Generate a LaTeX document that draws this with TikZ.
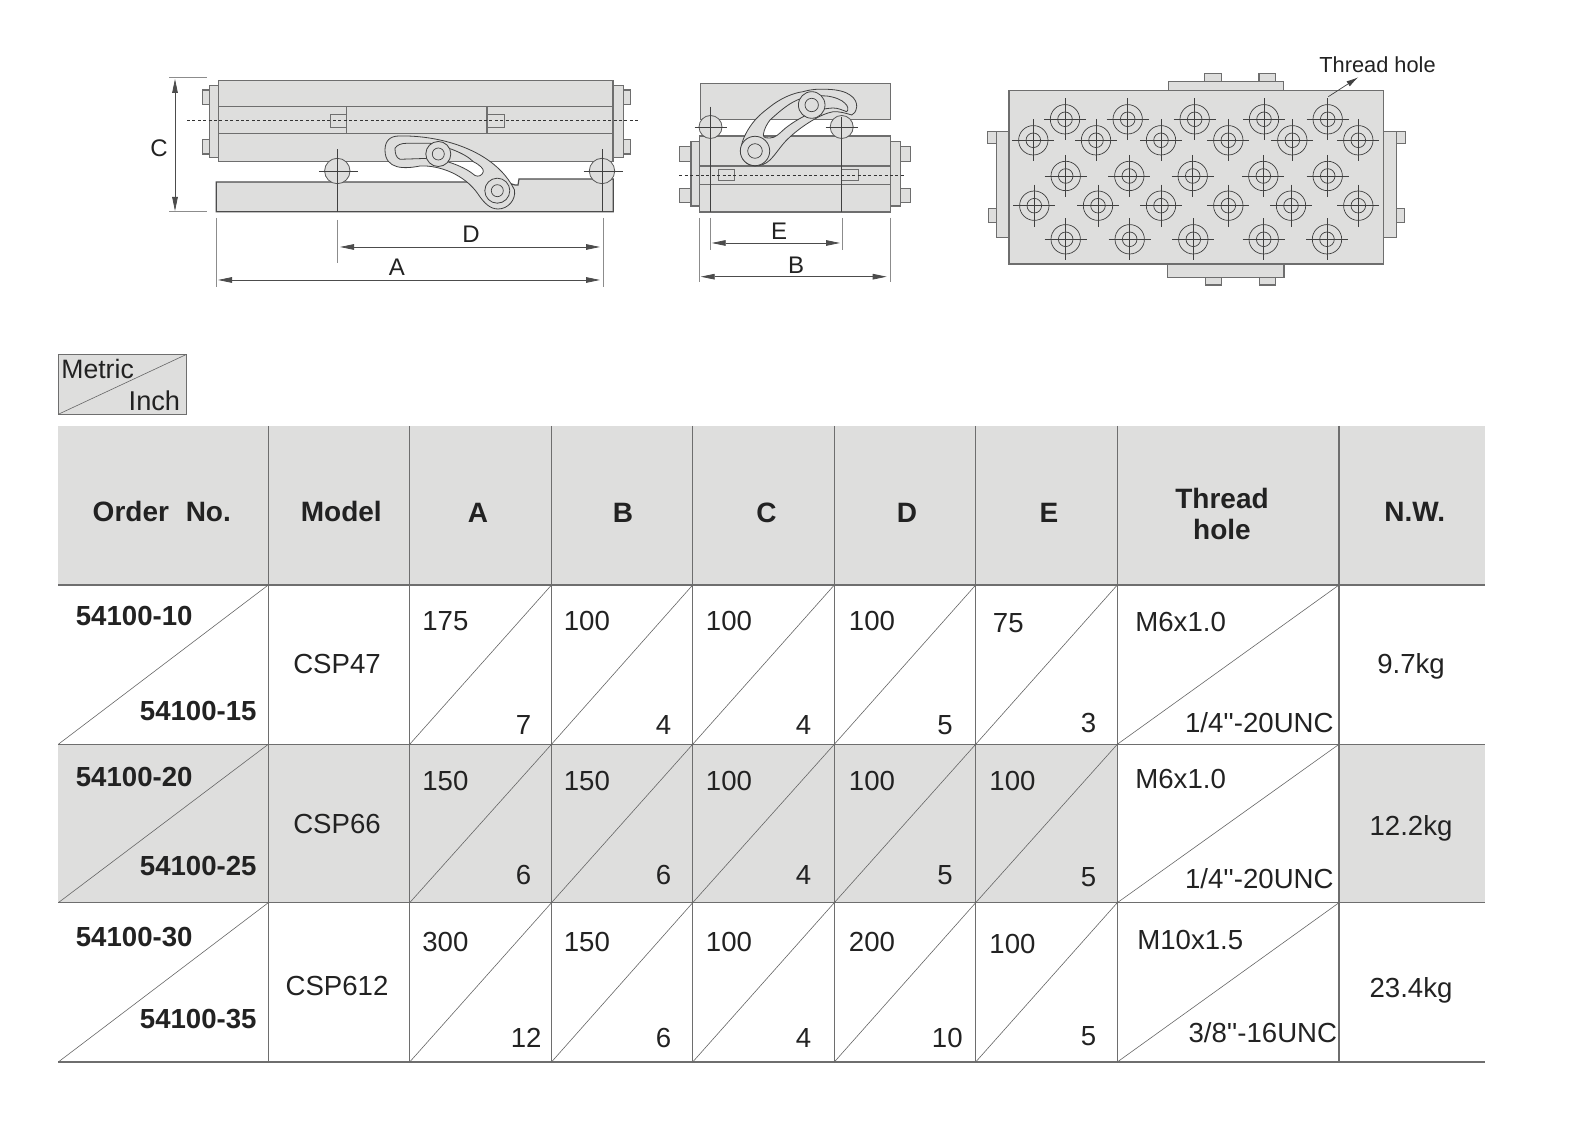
\documentclass[tikz,border=0pt]{standalone}
\usepackage{fontspec}
\setmainfont{Liberation Sans}
\newfontfamily\threadfont{Liberation Sans}
\usetikzlibrary{arrows.meta}
\definecolor{partgray}{HTML}{DEDEDD}
\definecolor{edgegray}{HTML}{6E6E6E}
\definecolor{inkgray}{HTML}{222222}
\newcommand{\slotlong}{(395,148.3) .. controls (397,145) and (401,143.3) .. (406.7,143.3)
        -- (430,143.3) .. controls (445,146) and (465,153) .. (473.3,161.7)
        .. controls (480,165) and (484,169) .. (483.3,171.7)
        .. controls (482,176) and (478,177) .. (475,175.5)
        .. controls (465,167) and (447,160) .. (430,158.3)
        -- (400,159.3) .. controls (396,158) and (395,153) .. (395,148.3) -- cycle}
\newcommand{\slotshort}{(763.3,135) .. controls (764,129) and (767,124) .. (770,120)
        .. controls (780,111) and (790,102) .. (801.7,98.3)
        .. controls (810,96) and (818,95.5) .. (826.7,96)
        .. controls (835,97) and (842,100) .. (845,103.3)
        .. controls (848,106) and (849,110) .. (846.7,111.7)
        .. controls (842,110) and (838,108) .. (833,108)
        .. controls (825,108.5) and (817,110) .. (810,113.3)
        .. controls (800,118) and (790,124) .. (783.3,130)
        .. controls (779,134) and (775,138) .. (770,138)
        .. controls (767,138.5) and (763.5,138) .. (763.3,135) -- cycle}
\tikzset{
    partbox/.style={draw=edgegray,fill=partgray,line width=0.6pt},
    thinline/.style={draw=black!75,line width=0.35pt},
    centerline/.style={draw=black!80,line width=0.3pt,dash pattern=on 1.5pt off 1.2pt},
    extline/.style={draw=black!45,line width=0.5pt},
    dimarrow/.style={draw=black!70,line width=0.4pt,{Triangle[length=7pt,width=2.8pt]}-{Triangle[length=7pt,width=2.8pt]}},
    armline/.style={draw=black!75,fill=partgray,line width=0.4pt},
    gridline/.style={draw=edgegray,line width=0.55pt},
    diagline/.style={draw=black!60,line width=0.3pt},
    dimtext/.style={font=\fontsize{12pt}{14pt}\selectfont,inner sep=0pt,text=inkgray,xshift=0.5pt,yshift=-0.5pt},
    valtext/.style={font=\fontsize{13.8pt}{16pt}\selectfont,inner sep=0pt,text=inkgray,yshift=-0.2pt},
    ordertext/.style={font=\fontsize{13.8pt}{16pt}\selectfont\bfseries,inner sep=0pt,text=inkgray,yshift=-0.5pt},
    headtext/.style={font=\fontsize{14pt}{16pt}\selectfont\bfseries,inner sep=0pt,text=inkgray,yshift=-0.6pt}
}
\begin{document}
\begin{tikzpicture}[x=0.5pt,y=-0.5pt]
    \useasboundingbox (0,0) rectangle (1571,1127);

    % side view, long
    \path[partbox] (209.3,85.3) rectangle (218.7,157.7);
    \path[partbox] (613,85.3) rectangle (623.3,157.7);
    \foreach \x/\xx in {202.3/209.3,623.3/630.7}
        \foreach \y/\yy in {90/104.3,139.3/154}
            \path[partbox] (\x,\y) rectangle (\xx,\yy);
    \path[partbox] (218.7,80.7) rectangle (613,161.7);
    \draw[edgegray,line width=0.6pt] (218.7,106.7) -- (613,106.7);
    \draw[edgegray,line width=0.6pt] (218.7,133.3) -- (613,133.3);
    \draw[edgegray,line width=0.6pt] (346.7,106.7) -- (346.7,133.3);
    \draw[edgegray,line width=0.6pt] (487,106.7) -- (487,133.3);
    \draw[edgegray,line width=0.5pt] (330.7,115) rectangle (346.7,127.3);
    \draw[edgegray,line width=0.5pt] (487,115) rectangle (504,127.3);
    \path[partbox,draw=black!70] (216.3,182) -- (505,182) -- (515,185) -- (518,185) -- (519,179)
        -- (613.3,179) -- (613.3,211.7) -- (216.3,211.7) -- cycle;
    \draw[centerline] (187,120.3) -- (640,120.3);
    \path[armline] (385,150) .. controls (385,141) and (390,136) .. (399,136)
        .. controls (440,135) and (495,150) .. (514.5,190)
        .. controls (516,200) and (508,209) .. (498,209)
        .. controls (490,209) and (484,203) .. (478,194)
        .. controls (465,175) and (440,165) .. (420,166)
        .. controls (405,169) and (385,170) .. (385,150) -- cycle;
    \begin{scope}
        \clip \slotlong;
        \fill[white] (380,161.7) rectangle (500,182);
        \draw[edgegray,line width=0.6pt] (380,161.7) -- (500,161.7);
    \end{scope}
    \draw[black!75,line width=0.4pt] \slotlong;
    \foreach \x/\y in {438.3/154,497.3/190.7} {
        \path[armline] (\x,\y) circle[radius=12.5];
        \draw[thinline] (\x,\y) circle[radius=6];
    }
    \foreach \x in {337.3,602} {
        \path[partbox,draw=black!65,line width=0.4pt] (\x,171) circle[radius=12.7];
        \draw[thinline] (\x-18.5,171) -- (\x+21,171);
        \draw[thinline] (\x,149.3) -- (\x,211.7);
    }

    % side view, short
    \path[partbox] (700.3,83.3) rectangle (890.3,119.3);
    \path[partbox] (691,141.7) rectangle (699.3,206);
    \path[partbox] (890.3,141.7) rectangle (900.3,206);
    \foreach \x/\xx in {679.3/691,900.3/910.7}
        \foreach \y/\yy in {146.7/161.3,188.7/202.7}
            \path[partbox] (\x,\y) rectangle (\xx,\yy);
    \path[partbox] (699.3,136) rectangle (890.3,212);
    \draw[edgegray,line width=0.6pt] (699.3,166) -- (890.3,166);
    \draw[edgegray,line width=0.6pt] (699.3,184.3) -- (890.3,184.3);
    \draw[edgegray,line width=0.5pt] (718,170) rectangle (734.3,180.7);
    \draw[edgegray,line width=0.5pt] (841.7,170) rectangle (858.3,180.7);
    \draw[centerline] (679.3,175.3) -- (905,175.3);
    \path[armline] (740.7,151) .. controls (741,143) and (745,134) .. (750,126.7)
        .. controls (757,116) and (766,110) .. (773,104.5)
        .. controls (782,98) and (793,93) .. (803,91.7)
        .. controls (812,89) and (820,89) .. (826.7,89.3)
        .. controls (838,89.5) and (846,92) .. (850,95)
        .. controls (855,98) and (857,103) .. (856.7,106.7)
        .. controls (856,112) and (854,114) .. (851.7,115)
        .. controls (845,113) and (840,111.5) .. (833.3,111.7)
        .. controls (826,113) and (820,116) .. (813,120)
        .. controls (803,126) and (795,132) .. (786.7,140)
        .. controls (780,147) and (776,154) .. (770,160)
        .. controls (766,164) and (760,166) .. (755,166)
        .. controls (747,166) and (740.7,159) .. (740.7,151) -- cycle;
    \begin{scope}
        \clip \slotshort;
        \fill[white] (750,119.3) rectangle (860,136);
        \draw[edgegray,line width=0.6pt] (750,119.3) -- (860,119.3);
        \draw[edgegray,line width=0.6pt] (750,136) -- (860,136);
    \end{scope}
    \draw[black!75,line width=0.4pt] \slotshort;
    \path[armline] (811.7,105) circle[radius=13.3];
    \draw[thinline] (811.7,105) circle[radius=6.7];
    \path[armline] (755,151) circle[radius=14.7];
    \draw[thinline] (755,151) circle[radius=7.3];
    \foreach \x/\ytop in {710.5/106.7,841.7/116.7} {
        \path[partbox,draw=black!65,line width=0.4pt] (\x,127) circle[radius=11.5];
        \draw[thinline] (\x-16,127) -- (\x+16.5,127);
        \draw[thinline] (\x,\ytop) -- (\x,212);
    }

    % top view
    \path[partbox] (1168.3,81.7) rectangle (1283.3,90.7);
    \foreach \x/\xx in {1204.3/1221.7,1259/1275.7}
        \path[partbox] (\x,73.3) rectangle (\xx,81.7);
    \path[partbox] (1167.7,264) rectangle (1284,277.3);
    \foreach \x/\xx in {1205.3/1221.3,1259.3/1275.7}
        \path[partbox] (\x,277.3) rectangle (\xx,285);
    \path[partbox] (996.7,131.7) rectangle (1009,237.3);
    \path[partbox] (1383.3,131.7) rectangle (1396.7,237.3);
    \path[partbox] (987.7,131.7) rectangle (996.7,143.3);
    \path[partbox] (988.7,208.3) rectangle (996.7,222.7);
    \path[partbox] (1396.7,131.7) rectangle (1405.3,143.3);
    \path[partbox] (1396.7,208.3) rectangle (1404.7,222.7);
    \path[partbox] (1009,90.7) rectangle (1383.3,264);
    \foreach \y/\xlist in {119.3/{1065,1127.7,1194.7,1264,1327.7},
                           140.3/{1033.3,1096,1161,1228.3,1292.3,1358.3},
                           176/{1065.7,1129.3,1192.7,1263.3,1327.7},
                           205.7/{1034.3,1098,1161,1228.3,1291,1358.3},
                           239.3/{1065.7,1129.7,1193.3,1263.7,1327}}
        \foreach \x in \xlist {
            \draw[thinline] (\x,\y) circle[radius=14.7];
            \draw[thinline] (\x,\y) circle[radius=7.3];
            \draw[thinline] (\x-21,\y) -- (\x+21,\y);
            \draw[thinline] (\x,\y-21) -- (\x,\y+21);
        }
    \node[valtext,font=\fontsize{10.9pt}{13pt}\selectfont,anchor=base] (threadLabel) at (1377.5,72) {Thread hole};
    \coordinate (threadFoot) at (1328.3,96.7);
    \coordinate (threadHead) at (1358.3,77.3);
    \draw[black!75,line width=0.35pt,-{Latex[length=6pt,width=3pt]}] (threadFoot) -- (threadHead);

    % dimensions
    \draw[extline] (169,78) -- (206.7,78);
    \draw[extline] (169,212) -- (206.7,212);
    \draw[extline] (216,218) -- (216,286.7);
    \draw[extline] (603,218) -- (603,286.7);
    \draw[extline] (337.3,220) -- (337.3,262.7);
    \draw[extline] (699.3,218) -- (699.3,281.7);
    \draw[extline] (890,218) -- (890,281.7);
    \draw[extline] (710,218) -- (710,250);
    \draw[extline] (842,218) -- (842,250);
    \coordinate (dimCtop) at (175,79);
    \coordinate (dimCbot) at (175,211);
    \coordinate (dimAl) at (218,280);
    \coordinate (dimAr) at (600,280);
    \coordinate (dimDl) at (340,247);
    \coordinate (dimDr) at (600,247);
    \coordinate (dimEl) at (711.7,243);
    \coordinate (dimEr) at (840,243);
    \coordinate (dimBl) at (700.7,276.7);
    \coordinate (dimBr) at (886.7,276.7);
    \draw[dimarrow] (dimCtop) -- (dimCbot);
    \draw[dimarrow] (dimAl) -- (dimAr);
    \draw[dimarrow] (dimDl) -- (dimDr);
    \draw[dimarrow] (dimEl) -- (dimEr);
    \draw[dimarrow] (dimBl) -- (dimBr);
    \foreach \x/\y/\t in {158/156/C,470/242/D,396/275/A,778/239/E,795/273/B}
        \node[dimtext,anchor=base] (dim\t) at (\x,\y) {\t};

    % metric / inch key
    \path[partbox,line width=0.5pt] (58.3,354.3) rectangle (186.7,414.3);
    \draw[diagline] (58.3,414.3) -- (186.7,354.3);
    \node[valtext,font=\fontsize{13.3pt}{15pt}\selectfont,anchor=base west] (keyMetric) at (61,378) {Metric};
    \node[valtext,font=\fontsize{13.6pt}{15pt}\selectfont,anchor=base east] (keyInch) at (180.5,410) {Inch};

    % table
    \fill[partgray] (58.3,426) rectangle (1485.3,585);
    \fill[partgray] (58.3,744.3) rectangle (1117.3,902.7);
    \fill[partgray] (1339,744.3) rectangle (1485.3,902.7);
    \foreach \x in {268.3,409.7,551.5,692.7,834.3,975.7,1117.3,1339}
        \draw[gridline] (\x,426) -- (\x,1062);
    \foreach \y in {585,744.3,902.7,1062}
        \draw[gridline] (58.3,\y) -- (1485.3,\y);
    \foreach \rowtop/\rowbot in {585/744.3,744.3/902.7,902.7/1062}
        \foreach \colleft/\colright in {58.3/268.3,409.7/551.5,551.5/692.7,692.7/834.3,834.3/975.7,975.7/1117.3,1117.3/1339}
            \draw[diagline] (\colleft,\rowbot) -- (\colright,\rowtop);

    \foreach \x/\y/\t [count=\i] in {341.3/520.7/Model,478/521/A,623/521/B,766.5/521/C,907/521/D,1049/521/E,1222/507.7/Thread,1222/538.3/hole,1414.7/520/N.W.}
        \node[headtext,anchor=base] (head\i) at (\x,\y) {\t};
    \node[headtext,anchor=base] (headOrder) at (161.8,520.7) {Order\hspace{4.5pt} No.};

    \foreach \y/\t [count=\i] in {625/54100-10,786/54100-20,946/54100-30}
        \node[ordertext,anchor=base west] (orderM\i) at (75.5,\y) {\t};
    \foreach \y/\t [count=\i] in {720/54100-15,875/54100-25,1028/54100-35}
        \node[ordertext,anchor=base east] (orderI\i) at (257,\y) {\t};
    \foreach \y/\t [count=\i] in {672.7/CSP47,833.3/CSP66,995/CSP612}
        \node[valtext,anchor=base] (model\i) at (337,\y) {\t};

    % metric values, inch values
    \foreach \x/\y/\t [count=\i] in {422/630/175,422/790/150,422/950.7/300,
            563.5/630/100,563.5/790/150,563.5/950.7/150,
            705.5/630/100,705.5/790/100,705.5/950.7/100,
            848.5/630/100,848.5/790/100,848.5/950.7/200,
            992.5/631.7/75,989/790/100,989/952.7/100,
            1135/630.7/M6x1.0,1135/788.3/M6x1.0,1137/949.3/M10x1.5}
        \node[valtext,anchor=base west] (valM\i) at (\x,\y) {\t};
    \foreach \x/\y/\t [count=\i] in {531.5/734/7,531.5/884/6,542/1046.7/12,
            671.5/734/4,671.5/884/6,671.5/1046.7/6,
            811.5/734/4,811.5/884/4,811.5/1046.7/4,
            953/734/5,953/884/5,963/1046.7/10,
            1096.5/731.7/3,1096.5/885.7/5,1096.5/1045/5}
        \node[valtext,anchor=base east] (valI\i) at (\x,\y) {\t};
    \foreach \x/\y/\t [count=\i] in {1334/731.7/{1/4''-20UNC},1334/887.7/{1/4''-20UNC},1337.5/1042.3/{3/8''-16UNC}}
        \node[valtext,font=\fontsize{13.8pt}{16pt}\threadfont,anchor=base east] (threadI\i) at (\x,\y) {\t};
    \foreach \y/\t [count=\i] in {673.3/9.7kg,835/12.2kg,996.7/23.4kg}
        \node[valtext,anchor=base] (weight\i) at (1411,\y) {\t};
\end{tikzpicture}
\end{document}
